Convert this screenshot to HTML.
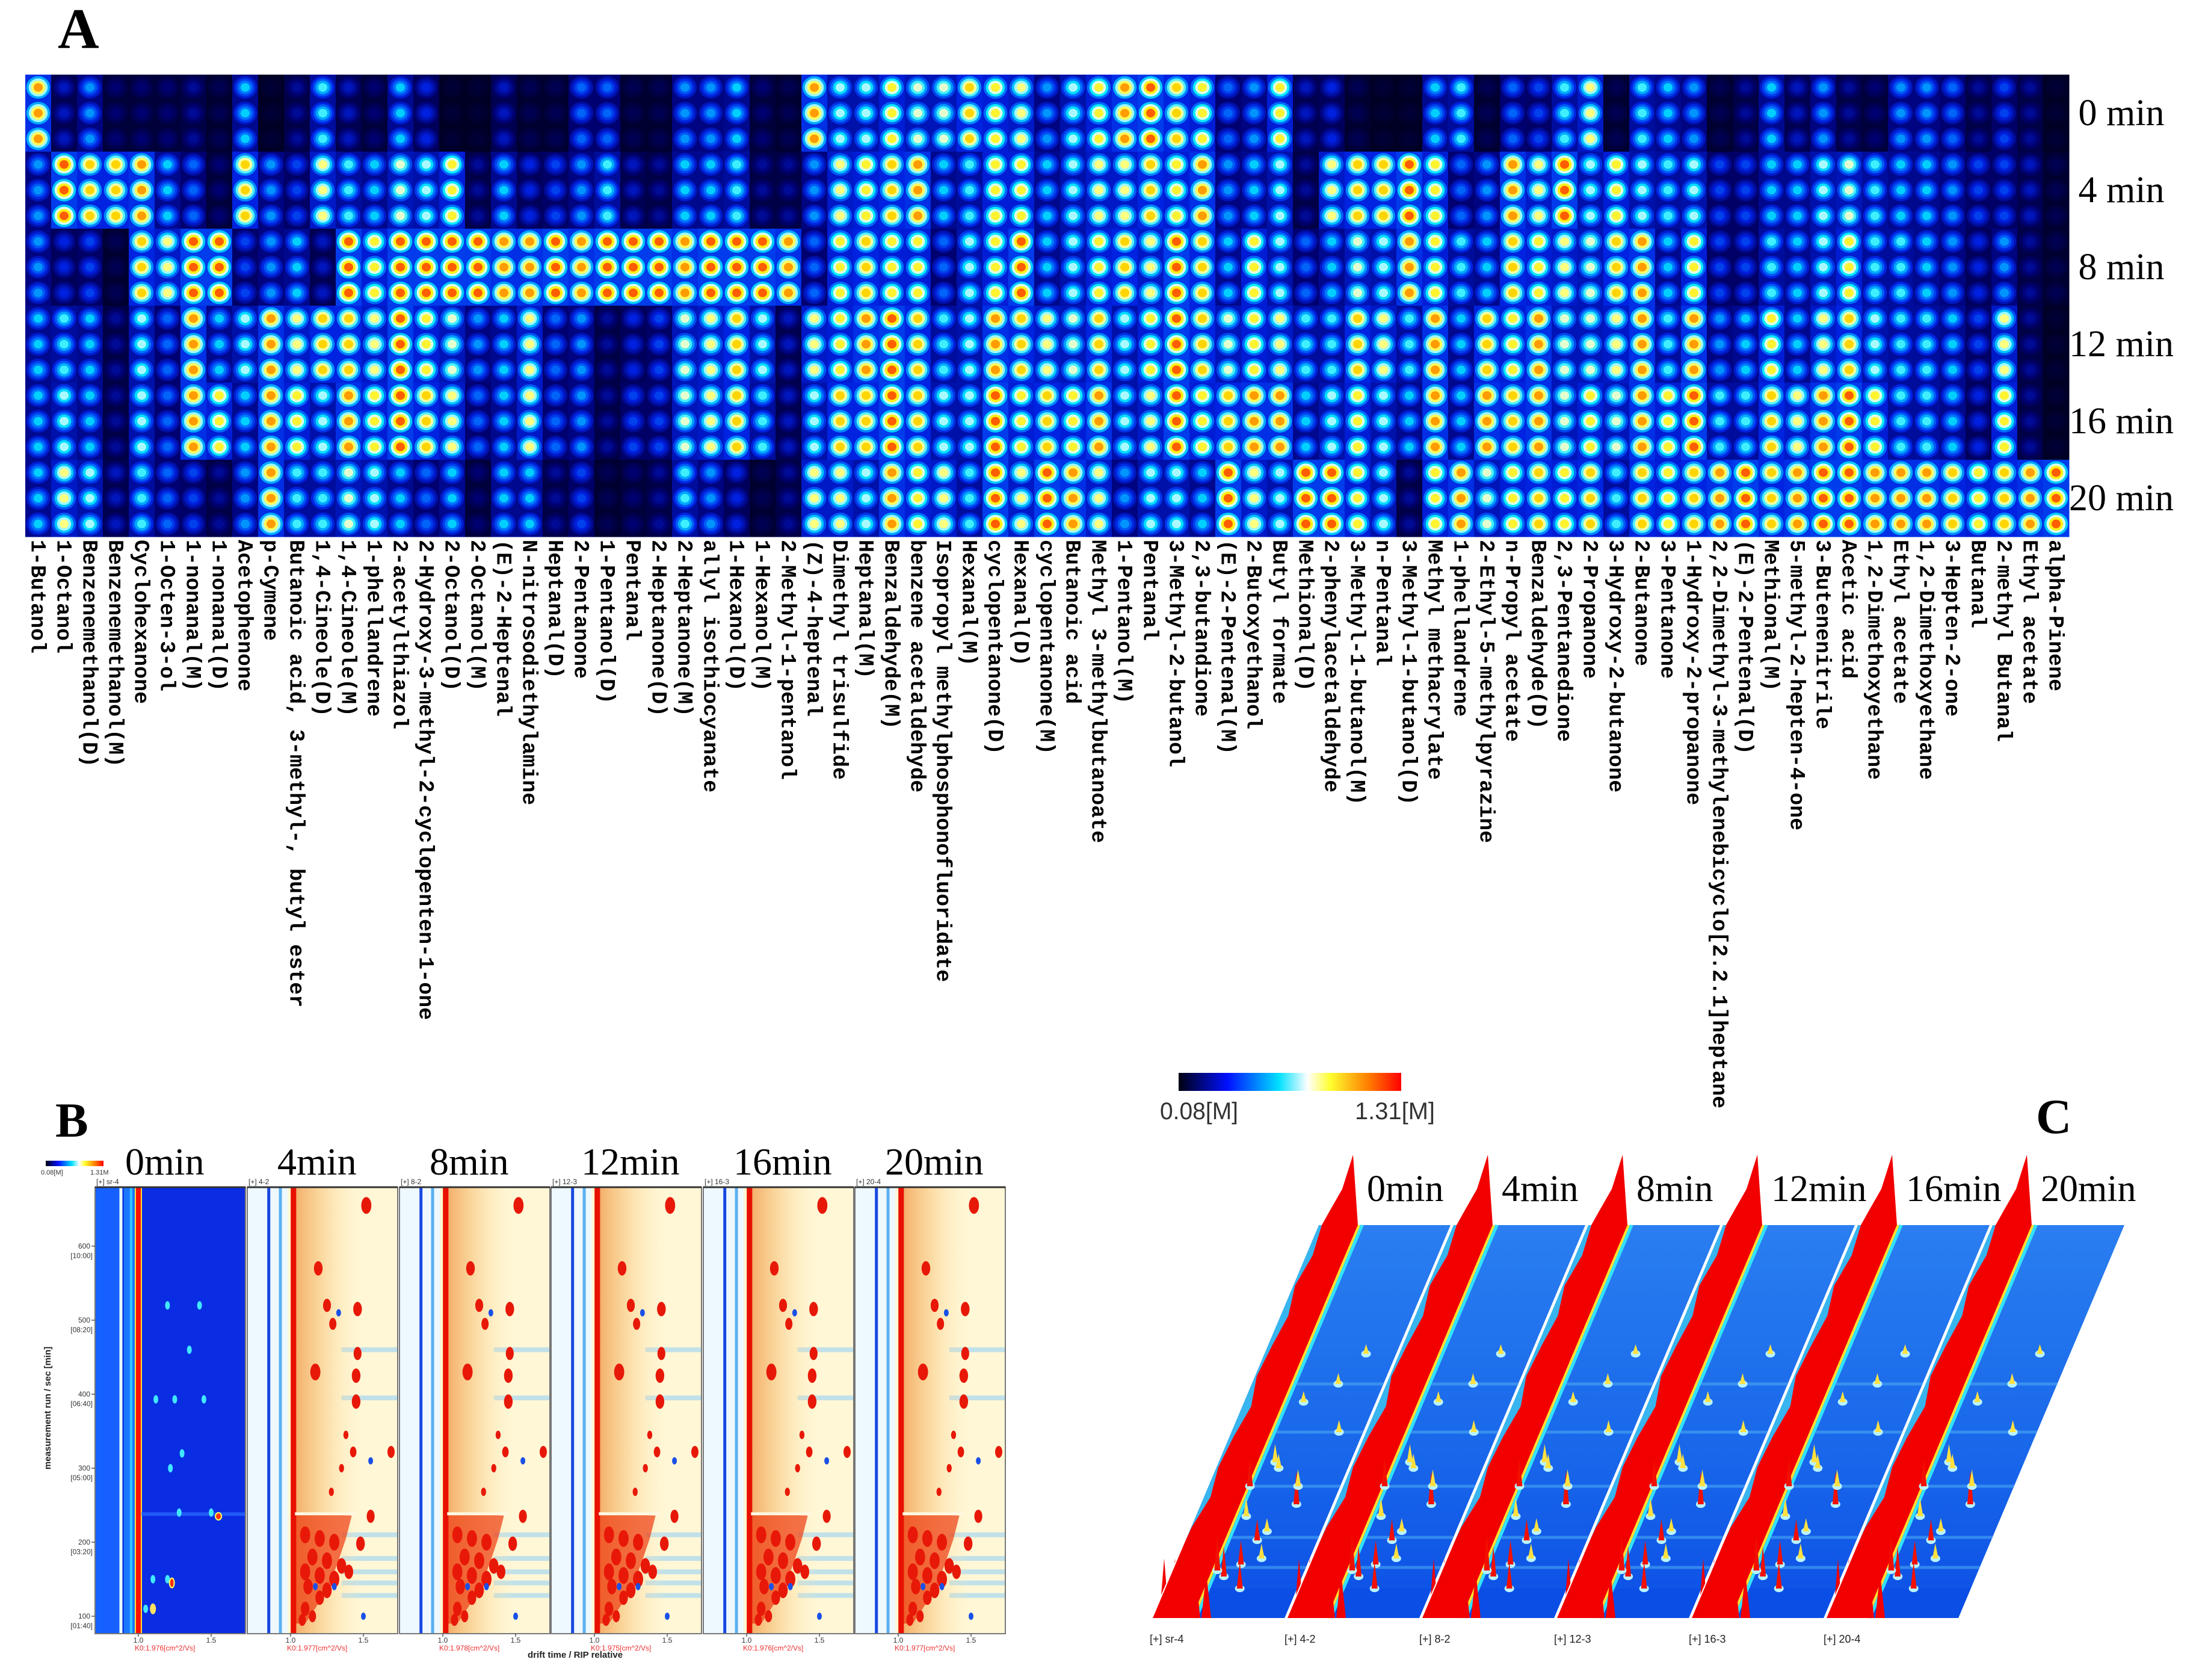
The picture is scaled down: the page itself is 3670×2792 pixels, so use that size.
<!DOCTYPE html>
<html><head><meta charset="utf-8">
<style>body{margin:0;background:#fff}svg{display:block}</style>
</head><body>
<svg id="fig" xmlns="http://www.w3.org/2000/svg" width="3670" height="2792" viewBox="0 0 3670 2792">
<defs>
<linearGradient id="jet" x1="0" x2="1" y1="0" y2="0">
<stop offset="0" stop-color="#000010"/><stop offset="0.22" stop-color="#0010ff"/><stop offset="0.45" stop-color="#00e0ff"/><stop offset="0.58" stop-color="#ffffff"/><stop offset="0.68" stop-color="#ffff30"/><stop offset="0.85" stop-color="#ff8000"/><stop offset="1" stop-color="#ff0000"/>
</linearGradient>
<linearGradient id="orangeFade" x1="0" x2="1" y1="0" y2="0">
<stop offset="0" stop-color="#f09040" stop-opacity="0.8"/><stop offset="0.4" stop-color="#f7c075" stop-opacity="0.6"/><stop offset="1" stop-color="#fff0c0" stop-opacity="0"/>
</linearGradient>
<linearGradient id="planeGrad" x1="0" x2="0" y1="0" y2="1">
<stop offset="0" stop-color="#2a7ef0"/><stop offset="0.6" stop-color="#1866ea"/><stop offset="1" stop-color="#0c4fe6"/>
</linearGradient>
</defs>
<g id="panelA"></g>
<g id="panelB"></g>
<g id="panelC"></g>
</svg>
<script>
// ---------- Panel A data ----------
const compounds = ["1-Butanol","1-Octanol","Benzenemethanol(D)","Benzenemethanol(M)","Cyclohexanone","1-Octen-3-ol","1-nonanal(M)","1-nonanal(D)","Acetophenone","p-Cymene","Butanoic acid, 3-methyl-, butyl ester","1,4-Cineole(D)","1,4-Cineole(M)","1-phellandrene","2-acetylthiazol","2-Hydroxy-3-methyl-2-cyclopenten-1-one","2-Octanol(D)","2-Octanol(M)","(E)-2-Heptenal","N-nitrosodiethylamine","Heptanal(D)","2-Pentanone","1-Pentanol(D)","Pentanal","2-Heptanone(D)","2-Heptanone(M)","allyl isothiocyanate","1-Hexanol(D)","1-Hexanol(M)","2-Methyl-1-pentanol","(Z)-4-heptenal","Dimethyl trisulfide","Heptanal(M)","Benzaldehyde(M)","benzene acetaldehyde","Isopropyl methylphosphonofluoridate","Hexanal(M)","cyclopentanone(D)","Hexanal(D)","cyclopentanone(M)","Butanoic acid","Methyl 3-methylbutanoate","1-Pentanol(M)","Pentanal","3-Methyl-2-butanol","2,3-butandione","(E)-2-Pentenal(M)","2-Butoxyethanol","Butyl formate","Methional(D)","2-phenylacetaldehyde","3-Methyl-1-butanol(M)","n-Pentanal","3-Methyl-1-butanol(D)","Methyl methacrylate","1-phellandrene","2-Ethyl-5-methylpyrazine","n-Propyl acetate","Benzaldehyde(D)","2,3-Pentanedione","2-Propanone","3-Hydroxy-2-butanone","2-Butanone","3-Pentanone","1-Hydroxy-2-propanone","2,2-Dimethyl-3-methylenebicyclo[2.2.1]heptane","(E)-2-Pentenal(D)","Methional(M)","5-methyl-2-hepten-4-one","3-Butenenitrile","Acetic acid","1,2-Dimethoxyethane","Ethyl acetate","1,2-Dimethoxyethane","3-Hepten-2-one","Butanal","2-methyl Butanal","Ethyl acetate","alpha-Pinene"];
const timeLabels = ["0 min","4 min","8 min","12 min","16 min","20 min"];
const t0 = [0.85,0.25,0.45,0.15,0.15,0.15,0.2,0.1,0.5,0.05, 0.2,0.55,0.25,0.15,0.5,0.3,0.05,0.05,0.25,0.1, 0.1,0.4,0.4,0.1,0.1,0.45,0.45,0.5,0.15,0.1, 0.85,0.6,0.6,0.75,0.65,0.65,0.8,0.75,0.7,0.45, 0.6,0.75,0.85,0.9,0.8,0.75,0.4,0.45,0.75,0.25, 0.3,0.1,0.05,0.05,0.5,0.55,0.1,0.4,0.35,0.55, 0.7,0.1,0.55,0.5,0.45,0.1,0.2,0.5,0.25,0.45, 0.2,0.15,0.45,0.45,0.4,0.2,0.35,0.2,0.05];
const t4 = [0.45,0.9,0.8,0.8,0.85,0.5,0.4,0.15,0.8,0.45, 0.35,0.7,0.55,0.5,0.65,0.6,0.75,0.2,0.5,0.3, 0.35,0.45,0.55,0.25,0.2,0.5,0.5,0.55,0.2,0.2, 0.45,0.7,0.75,0.8,0.85,0.5,0.55,0.75,0.75,0.5, 0.6,0.7,0.7,0.8,0.75,0.85,0.45,0.5,0.6,0.2, 0.7,0.8,0.8,0.9,0.75,0.4,0.45,0.85,0.7,0.9, 0.6,0.75,0.6,0.55,0.6,0.35,0.35,0.5,0.5,0.6, 0.65,0.55,0.5,0.5,0.45,0.35,0.35,0.25,0.1];
const t8 = [0.45,0.3,0.35,0.1,0.8,0.7,0.9,0.9,0.35,0.45, 0.5,0.25,0.9,0.75,0.9,0.9,0.9,0.9,0.85,0.85, 0.9,0.85,0.9,0.9,0.9,0.85,0.9,0.9,0.9,0.85, 0.4,0.75,0.8,0.75,0.75,0.4,0.6,0.75,0.9,0.5, 0.6,0.75,0.8,0.7,0.9,0.8,0.5,0.75,0.6,0.4, 0.5,0.65,0.6,0.85,0.75,0.55,0.5,0.8,0.75,0.7, 0.65,0.8,0.85,0.5,0.75,0.35,0.35,0.55,0.5,0.6, 0.75,0.55,0.55,0.5,0.45,0.3,0.45,0.2,0.1];
const t12 = [0.5,0.55,0.5,0.2,0.6,0.4,0.85,0.5,0.6,0.85, 0.7,0.8,0.8,0.7,0.9,0.75,0.65,0.45,0.5,0.7, 0.4,0.45,0.2,0.3,0.35,0.65,0.7,0.8,0.6,0.25, 0.7,0.75,0.85,0.9,0.8,0.55,0.6,0.85,0.8,0.7, 0.65,0.8,0.6,0.75,0.9,0.8,0.65,0.75,0.7,0.55, 0.55,0.8,0.7,0.55,0.85,0.5,0.8,0.75,0.85,0.65, 0.65,0.7,0.85,0.55,0.85,0.45,0.5,0.75,0.5,0.7, 0.8,0.6,0.55,0.55,0.5,0.35,0.7,0.2,0.05];
const t16 = [0.5,0.6,0.5,0.2,0.6,0.4,0.85,0.75,0.5,0.85, 0.75,0.6,0.85,0.75,0.9,0.8,0.7,0.4,0.5,0.7, 0.4,0.45,0.2,0.35,0.35,0.65,0.7,0.8,0.55,0.25, 0.6,0.8,0.8,0.9,0.8,0.6,0.6,0.9,0.75,0.8, 0.75,0.85,0.6,0.7,0.9,0.75,0.8,0.85,0.85,0.5, 0.6,0.75,0.6,0.5,0.85,0.5,0.85,0.8,0.85,0.65, 0.75,0.65,0.85,0.75,0.9,0.55,0.55,0.8,0.7,0.85, 0.9,0.75,0.55,0.55,0.5,0.3,0.75,0.2,0.05];
const t20 = [0.5,0.7,0.6,0.25,0.55,0.4,0.35,0.2,0.45,0.85, 0.55,0.55,0.65,0.6,0.5,0.4,0.5,0.15,0.5,0.5, 0.2,0.35,0.1,0.15,0.2,0.55,0.45,0.3,0.1,0.2, 0.7,0.7,0.6,0.85,0.75,0.7,0.55,0.9,0.7,0.9, 0.85,0.7,0.45,0.6,0.6,0.5,0.9,0.7,0.6,0.9, 0.9,0.75,0.6,0.2,0.75,0.85,0.65,0.75,0.8,0.75, 0.8,0.55,0.8,0.75,0.8,0.85,0.9,0.8,0.85,0.9, 0.9,0.85,0.85,0.85,0.8,0.75,0.8,0.85,0.9];
const groups = [t0,t4,t8,t12,t16,t20];

// ---------- Panel B data ----------
const bTimes = ["0min","4min","8min","12min","16min","20min"];
const bIds = ["[+] sr-4","[+] 4-2","[+] 8-2","[+] 12-3","[+] 16-3","[+] 20-4"];
const bK0 = ["K0:1.976[cm^2/Vs]","K0:1.977[cm^2/Vs]","K0:1.978[cm^2/Vs]","K0:1.975[cm^2/Vs]","K0:1.976[cm^2/Vs]","K0:1.977[cm^2/Vs]"];
const yTickSec = [600,500,400,300,200,100];
const yTickMin = ["[10:00]","[08:20]","[06:40]","[05:00]","[03:20]","[01:40]"];
const xTickVal = [1.0,1.5];
const spotDrift = [1.52,1.19,1.46,1.25,1.29,1.46,1.17,1.45,1.45,1.69,1.43,1.55,1.48,1.1,1.2,1.3,1.15,1.25,1.35,1.1,1.2,1.3,1.4,1.12,1.25,1.2,1.1,1.15,1.08,1.35,1.28,1.38];
const spotSec  = [655,570,515,520,495,455,430,425,390,322,322,235,198,210,205,200,180,175,168,160,155,150,160,140,135,125,110,100,95,300,268,345];
const spotSize = [14,12,12,11,10,11,14,12,12,10,9,11,12,14,14,14,14,14,13,14,14,14,12,13,13,12,12,10,10,7,7,7];
const cyanDrift = [1.12,1.25,1.45,1.5,1.28,1.1,1.2,1.05,1.3,1.2,1.42,1.35,1.22];
const cyanSec   = [393,393,393,240,240,150,150,110,320,520,520,460,300];
const bandSec = [210,178,160,145,128,395,460];

// ---------- Panel C data ----------
const cTimes = ["0min","4min","8min","12min","16min","20min"];
const ridgeLeft = [6,12,4,14,8,4,16,8,4,12,2,0,0,0];
const peakDX = [160,70,95,120,140,180,90,110,130,150,100,85,125,170,75,105,145];
const peakY  = [2500,2470,2430,2560,2590,2380,2620,2600,2545,2470,2330,2520,2640,2250,2610,2440,2300];
const peakH  = [55,45,30,35,25,20,50,40,22,28,18,30,45,16,60,24,18];

const NS = "http://www.w3.org/2000/svg";
function mk(parent, tag, attrs, text){
  const e = document.createElementNS(NS, tag);
  for (const k in attrs) e.setAttribute(k, attrs[k]);
  if (text !== undefined) e.textContent = text;
  parent.appendChild(e);
  return e;
}
const stops = [[0,[0,0,26]],[0.15,[0,0,112]],[0.3,[0,32,224]],[0.42,[0,112,255]],[0.52,[0,232,255]],[0.62,[210,255,255]],[0.7,[255,255,128]],[0.78,[255,236,0]],[0.86,[255,144,0]],[0.95,[255,32,0]],[1,[224,0,0]]];
function cmap(v){
  v = Math.max(0, Math.min(1, v));
  for (let i = 1; i < stops.length; i++){
    if (v <= stops[i][0]){
      const a = stops[i-1], b = stops[i], f = (v - a[0]) / (b[0] - a[0]);
      const c = a[1].map((x, j) => Math.round(x + (b[1][j] - x) * f));
      return "rgb(" + c.join(",") + ")";
    }
  }
  return "rgb(224,0,0)";
}

// ================= PANEL A =================
const A = document.getElementById("panelA");
const letterA = mk(A, "text", {x:96, y:80, "font-family":"Liberation Serif, serif", "font-size":95, "font-weight":"bold"}, "A");


const X0 = 42, Y0 = 124, X1 = 3439, Y1 = 892;
const CW = (X1 - X0) / compounds.length;
const RH = (Y1 - Y0) / (groups.length * 3);
function xCol(i){ return X0 + i * CW; }
function yRow(r){ return Y0 + r * RH; }
const hm = mk(A, "g", {});


const layers = [[1.0,0.55],[0.8,0.7],[0.6,0.85],[0.38,1.0]];
for (let c = 0; c < compounds.length; c++){
  for (let r = 0; r < groups.length * 3; r++){
    const g = Math.floor(r / 3);
    const v = groups[g][c];
    const x = xCol(c), y = yRow(r);
    const cell = mk(hm, "g", {});
    
    
    mk(cell, "rect", {x:x, y:y, width:CW + 0.5, height:RH + 0.5, fill:cmap(v * 0.38)});
    for (const L of layers){
      mk(cell, "ellipse", {cx:x + CW/2, cy:y + RH/2, rx:CW * 0.46 * L[0], ry:RH * 0.44 * L[0], fill:cmap(v * L[1])});
    }
  }
}
for (let g = 0; g < timeLabels.length; g++){
  const t = mk(A, "text", {x:3526, y:yRow(g*3 + 1.5) + 20, "text-anchor":"middle", "font-family":"Liberation Serif, serif", "font-size":62}, timeLabels[g]);
  
  
}
for (let i = 0; i < compounds.length; i++){
  const lx = X0 + (i + 0.5) * CW - 11, ly = 897;
  const t = mk(A, "text", {x:lx, y:ly, transform:"rotate(90 " + lx + " " + ly + ")", "font-family":"Liberation Mono, monospace", "font-size":35, "font-weight":"bold", fill:"#000"}, compounds[i]);
  
  
}

// ================= PANEL B =================
const B = document.getElementById("panelB");
const letterB = mk(B, "text", {x:92, y:1889, "font-family":"Liberation Serif, serif", "font-size":82, "font-weight":"bold"}, "B");


const bcb = mk(B, "rect", {x:76, y:1929, width:96, height:9, fill:"url(#jet)"});


mk(B, "text", {x:68, y:1952, "font-family":"Liberation Sans, sans-serif", "font-size":11, fill:"#333"}, "0.08[M]");
mk(B, "text", {x:150, y:1952, "font-family":"Liberation Sans, sans-serif", "font-size":11, fill:"#333"}, "1.31M");
const PT = 1973, PB = 2715, PW = 250;
const bLeft = [158,411,664,916,1169,1421];
function xB(i, d){ return bLeft[i] + 72 + (d - 1) * 242; }
function yB(s){ return 2686 - (s - 100) * 1.23; }
for (let i = 0; i < 6; i++){
  const L = bLeft[i];
  const cp = mk(document.querySelector("defs"), "clipPath", {id:"clipB" + i});
  mk(cp, "rect", {x:L, y:PT, width:PW, height:PB - PT});
  const pg = mk(B, "g", {"clip-path":"url(#clipB" + i + ")"});
  
  
  if (i === 0){
    mk(pg, "rect", {x:L, y:PT, width:PW, height:PB - PT, fill:"#0a2ce2"});
    mk(pg, "rect", {x:L, y:PT, width:xB(i,0.88) - L, height:PB - PT, fill:"#1560ff"});
    mk(pg, "rect", {x:xB(i,0.9), y:PT, width:xB(i,0.98) - xB(i,0.9), height:PB - PT, fill:"#1a78ff"});
    mk(pg, "line", {x1:xB(i,0.88), x2:xB(i,0.88), y1:PT, y2:PB, stroke:"#e6ffff", "stroke-width":5});
    mk(pg, "line", {x1:xB(i,0.95), x2:xB(i,0.95), y1:PT, y2:PB, stroke:"#30c8ff", "stroke-width":4});
    mk(pg, "line", {x1:xB(i,1.0), x2:xB(i,1.0), y1:PT, y2:PB, stroke:"#ffe040", "stroke-width":12});
    mk(pg, "line", {x1:xB(i,1.0), x2:xB(i,1.0), y1:PT, y2:PB, stroke:"#ff1000", "stroke-width":8});
    mk(pg, "rect", {x:xB(i,1.02), y:yB(238) - 3, width:PW, height:6, fill:"#2a6cff", opacity:0.7});
    for (let k = 0; k < cyanDrift.length; k++){
      const e = mk(pg, "ellipse", {cx:xB(i,cyanDrift[k]), cy:yB(cyanSec[k]), rx:4, ry:7, fill:"#40e8ff"});
      
      
    }
    mk(pg, "ellipse", {cx:xB(i,1.55), cy:yB(235), rx:5, ry:6, fill:"#ff3010", stroke:"#ffff60", "stroke-width":2});
    mk(pg, "ellipse", {cx:xB(i,1.23), cy:yB(145), rx:4, ry:8, fill:"#ff3010", stroke:"#ffff60", "stroke-width":2});
    mk(pg, "ellipse", {cx:xB(i,1.1), cy:yB(110), rx:5, ry:9, fill:"#ffe060"});
  } else {
    mk(pg, "rect", {x:L, y:PT, width:PW, height:PB - PT, fill:"#fff7d6"});
    mk(pg, "rect", {x:L, y:PT, width:xB(i,0.98) - L, height:PB - PT, fill:"#eef8ff"});
    for (const s of bandSec){
      mk(pg, "rect", {x:xB(i,1.35), y:yB(s) - 4, width:PW, height:8, fill:"#9fd6f2", opacity:0.65});
    }
    mk(pg, "rect", {x:xB(i,1.0), y:PT, width:xB(i,1.5) - xB(i,1.0), height:PB - PT, fill:"url(#orangeFade)"});
    mk(pg, "polygon", {points:[[1.02,240],[1.42,236],[1.38,205],[1.32,170],[1.25,135],[1.15,105],[1.1,90],[1.02,90]].map(p => xB(i,p[0]) + "," + yB(p[1])).join(" "), fill:"#ee3a10", opacity:0.7});
    mk(pg, "line", {x1:xB(i,0.85), x2:xB(i,0.85), y1:PT, y2:PB, stroke:"#1848e0", "stroke-width":5});
    mk(pg, "line", {x1:xB(i,0.93), x2:xB(i,0.93), y1:PT, y2:PB, stroke:"#5ab0f0", "stroke-width":5});
    mk(pg, "line", {x1:xB(i,1.02), x2:xB(i,1.02), y1:PT, y2:PB, stroke:"#e81000", "stroke-width":9});
    mk(pg, "rect", {x:xB(i,1.03), y:yB(238) - 3, width:xB(i,1.45) - xB(i,1.03), height:5, fill:"#fff8e0"});
    for (let k = 0; k < spotDrift.length; k++){
      const e = mk(pg, "ellipse", {cx:xB(i,spotDrift[k]), cy:yB(spotSec[k]), rx:spotSize[k] * 0.6, ry:spotSize[k], fill:"#e81808"});
      
      
    }
    for (let k = 0; k < 5; k++){
      mk(pg, "ellipse", {cx:xB(i,cyanDrift[k] + 0.05), cy:yB(cyanSec[k + 5] - 10), rx:4, ry:6, fill:"#1a50e8"});
    }
  }
  const fr = mk(B, "rect", {x:L, y:PT, width:PW, height:PB - PT, fill:"none", stroke:"#777", "stroke-width":2});
  
  
  mk(B, "line", {x1:L, x2:L + PW, y1:PT, y2:PT, stroke:"#333", "stroke-width":3});
  mk(B, "text", {x:L + 2, y:1968, "font-family":"Liberation Sans, sans-serif", "font-size":12, fill:"#333"}, bIds[i]);
  const tt = mk(B, "text", {x:L + 50, y:1952, "font-family":"Liberation Serif, serif", "font-size":64}, bTimes[i]);
  
  
  for (const d of xTickVal){
    mk(B, "line", {x1:xB(i,d), x2:xB(i,d), y1:PB, y2:PB + 5, stroke:"#555", "stroke-width":1.5});
    mk(B, "text", {x:xB(i,d), y:2730, "text-anchor":"middle", "font-family":"Liberation Sans, sans-serif", "font-size":12, fill:"#333"}, d.toFixed(1));
  }
  mk(B, "text", {x:xB(i,1.0) - 6, y:2743, "font-family":"Liberation Sans, sans-serif", "font-size":12, fill:"#ee3030"}, bK0[i]);
}
for (let k = 0; k < yTickSec.length; k++){
  const y = yB(yTickSec[k]);
  mk(B, "line", {x1:152, x2:158, y1:y, y2:y, stroke:"#555", "stroke-width":1.5});
  mk(B, "text", {x:150, y:y + 4, "text-anchor":"end", "font-family":"Liberation Sans, sans-serif", "font-size":12, fill:"#333"}, String(yTickSec[k]));
  mk(B, "text", {x:154, y:y + 20, "text-anchor":"end", "font-family":"Liberation Sans, sans-serif", "font-size":12, fill:"#333"}, yTickMin[k]);
}
const yl = mk(B, "text", {x:84, y:2340, transform:"rotate(-90 84 2340)", "text-anchor":"middle", "font-family":"Liberation Sans, sans-serif", "font-size":15, "font-weight":"bold", fill:"#222"}, "measurement run / sec [min]");


const xl = mk(B, "text", {x:877, y:2755, "font-family":"Liberation Sans, sans-serif", "font-size":15, "font-weight":"bold", fill:"#222"}, "drift time / RIP relative");



// ================= PANEL C =================
const C = document.getElementById("panelC");
const letterC = mk(C, "text", {x:3384, y:1883, "font-family":"Liberation Serif, serif", "font-size":82, "font-weight":"bold"}, "C");


const ccb = mk(C, "rect", {x:1959, y:1783, width:370, height:30, fill:"url(#jet)"});


mk(C, "text", {x:1928, y:1860, "font-family":"Liberation Sans, sans-serif", "font-size":40, fill:"#333", textLength:130, lengthAdjust:"spacingAndGlyphs"}, "0.08[M]");
mk(C, "text", {x:2252, y:1860, "font-family":"Liberation Sans, sans-serif", "font-size":40, fill:"#333", textLength:133, lengthAdjust:"spacingAndGlyphs"}, "1.31[M]");
const CT = 2036, CB = 2689, PWc = 220, K = (2191 - 1915) / (CB - CT);
for (let i = 0; i < 6; i++){
  const ox = i * 224;
  const Lx = y => 2191 + ox - (y - CT) * K;
  const pl = mk(C, "g", {});
  
  
  const quad = (a, b, y0, y1) => [Lx(y0) + a, y0, Lx(y0) + b, y0, Lx(y1) + b, y1, Lx(y1) + a, y1].join(",");
  mk(pl, "polygon", {points:quad(0, PWc, CT, CB), fill:"url(#planeGrad)"});
  mk(pl, "polygon", {points:quad(0, 76, CT, CB), fill:"#38b4ee"});
  mk(pl, "polygon", {points:quad(76, PWc, 2640, CB), fill:"#0a4ee6"});
  for (const by of [2300, 2380, 2470, 2555, 2605]){
    mk(pl, "line", {x1:Lx(by) + 76, y1:by, x2:Lx(by) + PWc, y2:by, stroke:"#4aa8f4", "stroke-width":5, opacity:0.6});
  }
  const n = ridgeLeft.length;
  const pts = [];
  pts.push([Lx(CT) + 66, CT]);
  pts.push([Lx(CT) + 58, CT - 117]);
  pts.push([Lx(CT) + 40, CT - 60]);
  pts.push([Lx(CT) + 20, CT - 25]);
  for (let k = 0; k < n; k++){
    const y = CT + (CB - CT) * k / (n - 1);
    pts.push([Lx(y) + ridgeLeft[k], y]);
  }
  pts.push([Lx(CB) + 74, CB]);
  const ridge = mk(pl, "polygon", {points:pts.map(p => p.join(",")).join(" "), fill:"#f20000"});
  
  
  mk(pl, "line", {x1:Lx(CT) + 68, y1:CT, x2:Lx(CB) + 68, y2:CB, stroke:"#ffe030", "stroke-width":4});
  mk(pl, "line", {x1:Lx(CT) + 73, y1:CT, x2:Lx(CB) + 73, y2:CB, stroke:"#30e4ff", "stroke-width":5});
  for (const sx of [20, 38, 55, 72, 90]){
    mk(pl, "polygon", {points:[Lx(CB) + sx - 8, CB, Lx(CB) + sx, CB - 75 - (sx % 3) * 12, Lx(CB) + sx + 8, CB].join(","), fill:"#f20000"});
  }
  for (let k = 0; k < peakDX.length; k++){
    const y = peakY[k], x = Lx(y) + peakDX[k], h = peakH[k];
    mk(pl, "ellipse", {cx:x, cy:y, rx:8, ry:6, fill:"#b8f4ff"});
    const p = mk(pl, "polygon", {points:[x - 5, y, x, y - h, x + 5, y].join(","), fill:h > 34 ? "#f21000" : "#ffe040"});
    
    
  }
  mk(pl, "line", {x1:Lx(CT), y1:CT, x2:Lx(CB), y2:CB, stroke:"#ffffff", "stroke-width":2});
  mk(C, "text", {x:Lx(CB) - 4, y:2730, "font-family":"Liberation Sans, sans-serif", "font-size":18, fill:"#222"}, bIds[i]);
  const tc = mk(C, "text", {x:2272 + ox, y:1996, "font-family":"Liberation Serif, serif", "font-size":62}, cTimes[i]);
  
  
}
</script>
</body></html>
